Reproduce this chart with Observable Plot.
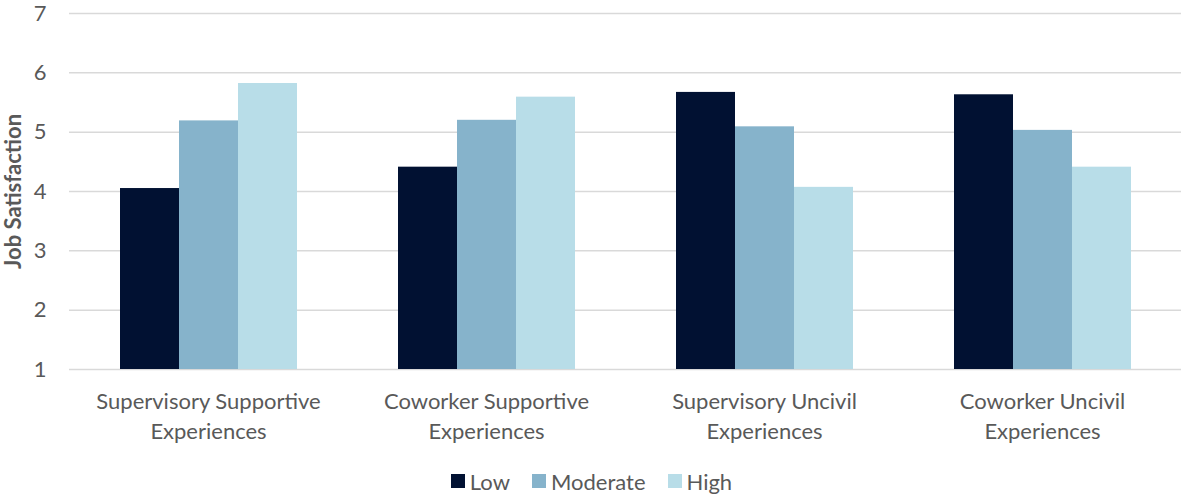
<!DOCTYPE html>
<html>
<head>
<meta charset="utf-8">
<script src="https://cdn.jsdelivr.net/npm/d3@7"></script>
<script src="https://cdn.jsdelivr.net/npm/@observablehq/plot@0.6"></script>
<style>
  html, body { margin: 0; padding: 0; background: #fff; }
  #chart { width: 1183px; }
  .lg-swatches { display: flex !important; justify-content: center; align-items: center; height: 30px; min-height: 30px !important; margin: 0 !important; }
  .lg-swatch { margin-right: 22px !important; }
  .lg-swatch:last-child { margin-right: 0 !important; }
  .lg-swatch > svg { margin-right: 5px !important; }
</style>
</head>
<body>
<div id="chart"></div>
<script>
const categories = [
  "Supervisory Supportive Experiences",
  "Coworker Supportive Experiences",
  "Supervisory Uncivil Experiences",
  "Coworker Uncivil Experiences"
];
const categoryLabels = [
  "Supervisory Supportive\nExperiences",
  "Coworker Supportive\nExperiences",
  "Supervisory Uncivil\nExperiences",
  "Coworker Uncivil\nExperiences"
];
const levels = ["Low", "Moderate", "High"];
const lowValues = [4.05, 4.41, 5.67, 5.63];
const moderateValues = [5.19, 5.20, 5.09, 5.03];
const highValues = [5.82, 5.59, 4.07, 4.41];
const levelColors = ["#011132", "#86B3CB", "#B8DDE8"];
const yTicks = [1, 2, 3, 4, 5, 6, 7];
const yMin = 1;
const yMax = 7;
const yTitle = "Job Satisfaction";

const seriesValues = [lowValues, moderateValues, highValues];
const data = [];
categories.forEach((c, i) => {
  levels.forEach((l, j) => {
    data.push({category: c, level: l, value: seriesValues[j][i]});
  });
});
const labelOf = new Map(categories.map((c, i) => [c, categoryLabels[i]]));

const FONT = "Lato, 'Open Sans', sans-serif";
const TXT = "#595959";
const GAP = 50; // half of the gap between groups (px), used to extend gridlines across facets

const plot = Plot.plot({
  width: 1183,
  height: 466,
  marginLeft: 68,
  marginRight: 2,
  marginTop: 13,
  marginBottom: 97,
  style: {fontFamily: FONT, background: "#fff"},
  fx: {domain: categories, paddingInner: 0.36, paddingOuter: 0.18, label: null, axis: null},
  x: {domain: levels, padding: 0, axis: null},
  y: {domain: [yMin, yMax], label: null, axis: null},
  color: {domain: levels, range: levelColors},
  marks: [
    Plot.ruleY(yTicks, {y: d => d, stroke: "#D9D9D9", strokeWidth: 1.5, insetLeft: -GAP, insetRight: -GAP}),
    Plot.barY(data, {fx: "category", x: "level", y1: yMin, y2: "value", fill: "level"}),
    Plot.axisY({ticks: yTicks, tickFormat: d => String(d), tickSize: 0, tickPadding: 23 + GAP, fontSize: 22, fill: TXT, label: null}),
    Plot.axisFx({anchor: "bottom", tickSize: 0, tickPadding: 18, fontSize: 22, lineHeight: 1.36, fill: TXT,
      tickFormat: d => labelOf.get(d), label: null}),
    Plot.text([yTitle], {text: d => d, fx: () => categories[0], frameAnchor: "left", textAnchor: "middle",
      rotate: -90, dx: -106, fontSize: 22, fontWeight: "bold", fill: TXT})
  ]
});
document.getElementById("chart").appendChild(plot);

const legend = Plot.legend({
  color: {domain: levels, range: levelColors},
  legend: "swatches",
  swatchSize: 14,
  className: "lg",
  style: {fontFamily: FONT, fontSize: "22px", color: TXT}
});
document.getElementById("chart").appendChild(legend);
</script>
</body>
</html>
